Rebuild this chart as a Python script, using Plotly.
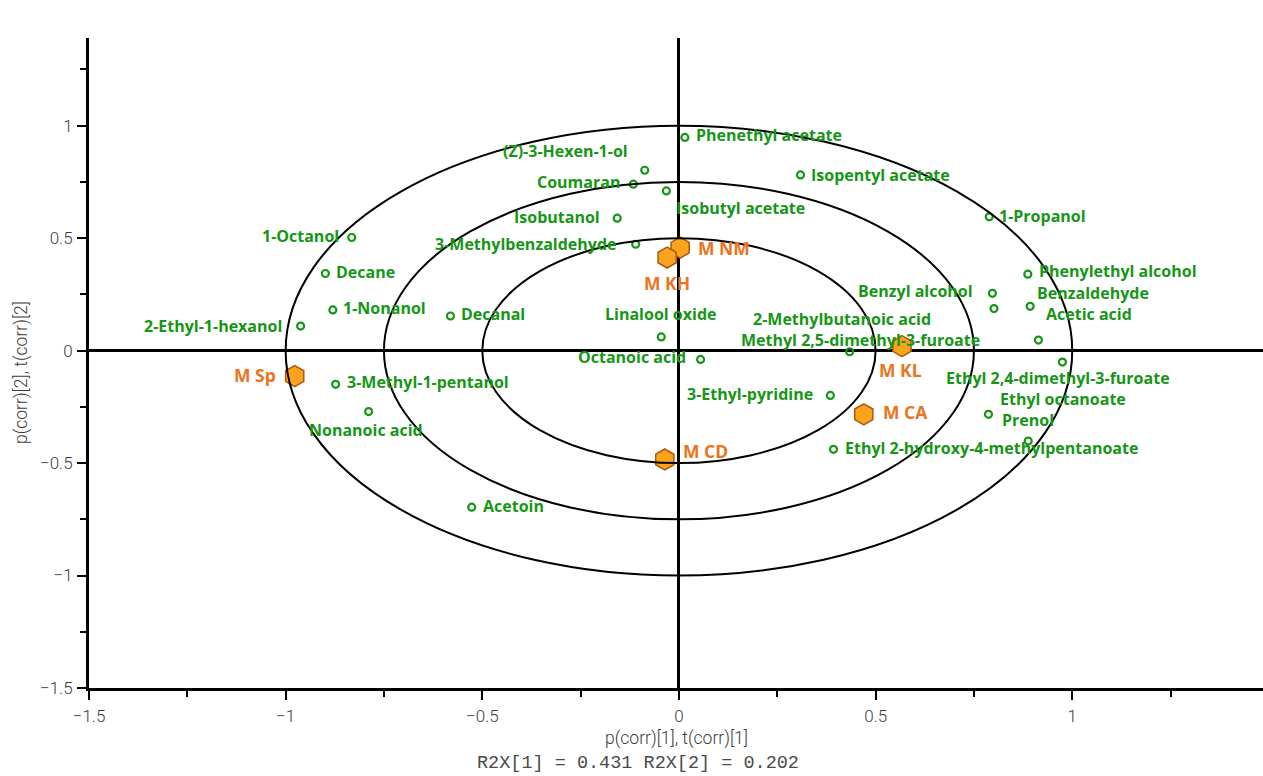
import plotly.graph_objects as go

# Loadings of the volatile compounds, p(corr)[1] / p(corr)[2]
compounds = [
    "Phenethyl acetate", "(Z)-3-Hexen-1-ol", "Coumaran", "Isobutyl acetate",
    "Isopentyl acetate", "Isobutanol", "1-Propanol", "1-Octanol",
    "3-Methylbenzaldehyde", "Decane", "Phenylethyl alcohol", "Benzyl alcohol",
    "Benzaldehyde", "Acetic acid", "1-Nonanol", "2-Ethyl-1-hexanol", "Decanal",
    "Linalool oxide", "Methyl 2,5-dimethyl-3-furoate", "2-Methylbutanoic acid",
    "Octanoic acid", "Ethyl 2,4-dimethyl-3-furoate", "3-Methyl-1-pentanol",
    "3-Ethyl-pyridine", "Prenol", "Nonanoic acid", "Ethyl octanoate",
    "Ethyl 2-hydroxy-4-methylpentanoate", "Acetoin",
]
p_corr1 = [
    0.015, -0.087, -0.116, -0.032,
    0.309, -0.157, 0.789, -0.832,
    -0.110, -0.899, 0.887, 0.797,
    0.801, 0.893, -0.880, -0.962, -0.581,
    -0.045, 0.914, 0.434,
    0.055, 0.975, -0.873,
    0.385, 0.787, -0.789, 0.888,
    0.393, -0.527,
]
p_corr2 = [
    0.948, 0.802, 0.740, 0.710,
    0.781, 0.589, 0.595, 0.503,
    0.473, 0.343, 0.340, 0.255,
    0.187, 0.197, 0.181, 0.109, 0.154,
    0.061, 0.047, -0.005,
    -0.039, -0.051, -0.150,
    -0.199, -0.283, -0.271, -0.402,
    -0.439, -0.696,
]

# Scores of the samples, t(corr)[1] / t(corr)[2]
samples = ["M NM", "M KH", "M KL", "M CA", "M CD", "M Sp"]
t_corr1 = [0.003, -0.030, 0.567, 0.470, -0.036, -0.977]
t_corr2 = [0.458, 0.414, 0.020, -0.283, -0.484, -0.113]

# Correlation ellipses (radius in correlation units)
ellipse_radii = [1.0, 0.75, 0.5]

# Label placement: (anchor, x shift px, y shift px)
compound_label_pos = [
    ("left", 10, 2), ("right", -16, 19), ("right", -12, 2), ("left", 9, -17),
    ("left", 10, 0), ("right", -16, 1), ("left", 9, 1), ("right", -12, 2),
    ("right", -18, 0), ("left", 10, 1), ("left", 10, 3), ("right", -18, 2),
    ("left", 42, 16), ("left", 15, -8), ("left", 9, 2), ("right", -18, 0), ("left", 10, 2),
    ("center", -1, 23), ("right", -57, 0), ("center", -8, 33),
    ("right", -14, 2), ("center", -4, -16), ("left", 10, 2),
    ("right", -16, 1), ("left", 13, -6), ("center", -3, -18), ("center", 35, 42),
    ("left", 10, 1), ("left", 10, 1),
]
sample_label_pos = [
    ("left", 17, 0), ("center", 0, -25), ("center", -1, -24),
    ("left", 18, 2), ("left", 17, 8), ("right", -18, 1),
]

GREEN = "#169616"
ORANGE = "#ea7420"
LABEL_FONT = "Open Sans"
AXIS_FONT = "Roboto"
AXIS_GREY = "#3c3c3c"

fig = go.Figure()

for r in ellipse_radii:
    fig.add_shape(type="circle", xref="x", yref="y", x0=-r, x1=r, y0=-r, y1=r,
                  line=dict(color="black", width=2), layer="above")

fig.add_trace(go.Scatter(
    x=p_corr1, y=p_corr2, mode="markers", name="Variables",
    marker=dict(symbol="circle-open", size=7, color=GREEN, line=dict(width=2.2, color=GREEN)),
    hovertext=compounds, hoverinfo="text",
))
fig.add_trace(go.Scatter(
    x=t_corr1, y=t_corr2, mode="markers", name="Samples",
    marker=dict(symbol="hexagon", size=21, color="#fba31c", line=dict(width=1.5, color="#a65b10")),
    hovertext=samples, hoverinfo="text",
))

for name, x, y, (anchor, dx, dy) in zip(compounds, p_corr1, p_corr2, compound_label_pos):
    fig.add_annotation(x=x, y=y, text=name, showarrow=False, xanchor=anchor, yanchor="middle",
                       xshift=dx, yshift=dy, borderpad=0,
                       font=dict(family=LABEL_FONT, size=16, color=GREEN, weight="bold"))
for name, x, y, (anchor, dx, dy) in zip(samples, t_corr1, t_corr2, sample_label_pos):
    fig.add_annotation(x=x, y=y, text=name, showarrow=False, xanchor=anchor, yanchor="middle",
                       xshift=dx, yshift=dy, borderpad=0,
                       font=dict(family=LABEL_FONT, size=17.5, color=ORANGE, weight="bold"))

axis_common = dict(
    showgrid=False, zeroline=True, zerolinecolor="black", zerolinewidth=2.5,
    showline=True, linecolor="black", linewidth=3, mirror=False,
    ticks="outside", ticklen=9, tickwidth=2, tickcolor="black", dtick=0.5,
    minor=dict(ticks="outside", ticklen=6, tickwidth=2, tickcolor="black", dtick=0.25, showgrid=False),
    tickfont=dict(family=AXIS_FONT, size=17, color=AXIS_GREY, weight=300),
)
fig.update_xaxes(range=[-1.5, 1.485], tick0=-1.5, ticklabelstandoff=2, **axis_common)
fig.update_yaxes(range=[-1.5, 1.39], tick0=-1.5, ticklabelstandoff=1, **axis_common)

fig.add_annotation(xref="paper", yref="paper", x=0.5, y=-0.077, text="p(corr)[1], t(corr)[1]",
                   showarrow=False, xanchor="center", yanchor="middle",
                   font=dict(family=AXIS_FONT, size=17.5, color=AXIS_GREY, weight=300))
fig.add_annotation(xref="paper", yref="paper", x=0.468, y=-0.116, text="R2X[1] = 0.431 R2X[2] = 0.202",
                   showarrow=False, xanchor="center", yanchor="middle",
                   font=dict(family="Liberation Mono", size=18.5, color="#4a4a4a"))
fig.add_annotation(xref="paper", yref="paper", x=-0.058, y=0.486, text="p(corr)[2], t(corr)[2]",
                   showarrow=False, textangle=-90, xanchor="center", yanchor="middle",
                   font=dict(family=AXIS_FONT, size=17.5, color=AXIS_GREY, weight=300))

fig.update_layout(
    width=1263, height=776,
    margin=dict(l=89, r=0, t=38, b=88),
    plot_bgcolor="white", paper_bgcolor="white",
    showlegend=False,
)

fig.write_html("out.html")
